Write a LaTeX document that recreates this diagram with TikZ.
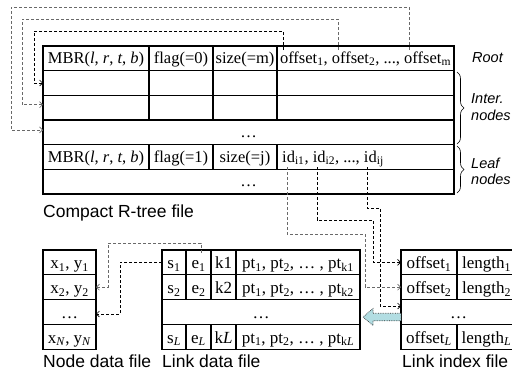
\documentclass[tikz,border=0pt]{standalone}
\usepackage{fontspec}
\setmainfont{Liberation Serif}
\newfontfamily\labfont{Liberation Sans}
\usetikzlibrary{arrows.meta,calc,decorations.pathreplacing}
\definecolor{blockfill}{RGB}{178,221,226}
\definecolor{lgray}{RGB}{105,105,105}
\newcommand\sbs[1]{\textsubscript{#1}}
\begin{document}
\begin{tikzpicture}[x=1pt,y=-1pt,
  tcell/.style={draw, line width=1.2pt, inner sep=0pt, outer sep=0pt, anchor=north west,
    minimum height=24.67pt, text height=12pt, text depth=2pt, font=\fontsize{16.5}{18}\selectfont},
  bcell/.style={draw, line width=1.2pt, inner sep=0pt, outer sep=0pt, anchor=north west,
    minimum height=24.8pt, text height=13pt, text depth=0pt, font=\fontsize{17}{19}\selectfont},
  conn/.style={dash pattern=on 3pt off 2pt, line width=0.65pt, -{Straight Barb[length=3pt,width=6pt]}},
  flabel/.style={anchor=west, inner sep=0pt, font=\labfont\fontsize{17.5}{19}\selectfont},
  slabel/.style={anchor=west, inner sep=0pt, font=\labfont\itshape\fontsize{14.5}{16}\selectfont},
  brc/.style={decorate, decoration={brace, amplitude=7pt}, line width=0.6pt}
]
\useasboundingbox (0,0) rectangle (512,376);

% ---------- Compact R-tree file ----------
\node[tcell, minimum width=106pt] (r1a) at (43,46) {MBR(\textit{l}, \textit{r}, \textit{t}, \textit{b})};
\node[tcell, minimum width=64pt]  (r1b) at (149,46) {flag(=0)};
\node[tcell, minimum width=64pt]  (r1c) at (213,46) {size(=m)};
\node[tcell, minimum width=177pt] (r1d) at (277,46) {offset\sbs{1}, offset\sbs{2}, ..., offset\sbs{m}};

\node[tcell, minimum width=106pt] (r2a) at (43,70.67) {};
\node[tcell, minimum width=64pt]  (r2b) at (149,70.67) {};
\node[tcell, minimum width=64pt]  (r2c) at (213,70.67) {};
\node[tcell, minimum width=177pt] (r2d) at (277,70.67) {};

\node[tcell, minimum width=106pt] (r3a) at (43,95.33) {};
\node[tcell, minimum width=64pt]  (r3b) at (149,95.33) {};
\node[tcell, minimum width=64pt]  (r3c) at (213,95.33) {};
\node[tcell, minimum width=177pt] (r3d) at (277,95.33) {};

\node[tcell, minimum width=411pt] (r4) at (43,120) {\ldots};

\node[tcell, minimum width=106pt] (r5a) at (43,144.67) {MBR(\textit{l}, \textit{r}, \textit{t}, \textit{b})};
\node[tcell, minimum width=64pt]  (r5b) at (149,144.67) {flag(=1)};
\node[tcell, minimum width=64pt]  (r5c) at (213,144.67) {size(=j)};
\node[tcell, minimum width=177pt] (r5d) at (277,144.67) {};
\node[anchor=base west, inner sep=0pt, font=\fontsize{16.5}{18}\selectfont] (ids) at (282,162) {id\sbs{i1}, id\sbs{i2}, ..., id\sbs{ij}};

\node[tcell, minimum width=411pt] (r6) at (43,169.33) {\ldots};

\node[flabel] (ctitle) at (43,213) {Compact R-tree file};

% right labels and braces
\node[slabel] (lroot) at (472,58) {Root};
\draw[brc] (457,72) -- (457,144);
\node[slabel] (linter) at (471,99) {Inter.};
\node[slabel] (lnodes1) at (471,115) {nodes};
\draw[brc] (457,146) -- (457,193);
\node[slabel] (lleaf) at (471,163) {Leaf};
\node[slabel] (lnodes2) at (471,179) {nodes};

% ---------- Node data file ----------
\node[bcell, minimum width=53pt] (nd1) at (43,250) {x\sbs{1}, y\sbs{1}};
\node[bcell, minimum width=53pt] (nd2) at (43,274.8) {x\sbs{2}, y\sbs{2}};
\node[bcell, minimum width=53pt] (nd3) at (43,299.6) {\ldots};
\node[bcell, minimum width=53pt] (nd4) at (43,324.4) {x\sbs{\textit{N}}, y\sbs{\textit{N}}};

% ---------- Link data file ----------
\node[bcell, minimum width=24pt]  (ld1s) at (162,250) {s\sbs{1}};
\node[bcell, minimum width=25pt]  (ld1e) at (186,250) {e\sbs{1}};
\node[bcell, minimum width=25pt]  (ld1k) at (211,250) {k1};
\node[bcell, minimum width=124pt] (ld1p) at (236,250) {pt\sbs{1}, pt\sbs{2}, \ldots\ , pt\sbs{k1}};

\node[bcell, minimum width=24pt]  (ld2s) at (162,274.8) {s\sbs{2}};
\node[bcell, minimum width=25pt]  (ld2e) at (186,274.8) {e\sbs{2}};
\node[bcell, minimum width=25pt]  (ld2k) at (211,274.8) {k2};
\node[bcell, minimum width=124pt] (ld2p) at (236,274.8) {pt\sbs{1}, pt\sbs{2}, \ldots\ , pt\sbs{k2}};

\node[bcell, minimum width=198pt] (ld3) at (162,299.6) {\ldots};

\node[bcell, minimum width=24pt]  (ld4s) at (162,324.4) {s\sbs{\textit{L}}};
\node[bcell, minimum width=25pt]  (ld4e) at (186,324.4) {e\sbs{\textit{L}}};
\node[bcell, minimum width=25pt]  (ld4k) at (211,324.4) {k\textit{L}};
\node[bcell, minimum width=124pt] (ld4p) at (236,324.4) {pt\sbs{1}, pt\sbs{2}, \ldots\ , pt\sbs{k\textit{L}}};

% ---------- Link index file ----------
\node[bcell, minimum width=56pt] (li1o) at (401,250) {offset\sbs{1}};
\node[bcell, minimum width=59pt] (li1l) at (457,250) {length\sbs{1}};
\node[bcell, minimum width=56pt] (li2o) at (401,274.8) {offset\sbs{2}};
\node[bcell, minimum width=59pt] (li2l) at (457,274.8) {length\sbs{2}};
\node[bcell, minimum width=115pt] (li3) at (401,299.6) {\ldots};
\node[bcell, minimum width=56pt] (li4o) at (401,324.4) {offset\sbs{\textit{L}}};
\node[bcell, minimum width=59pt] (li4l) at (457,324.4) {length\sbs{\textit{L}}};

\node[flabel] (ntitle) at (43,361) {Node data file};
\node[flabel] (ltitle) at (162,361) {Link data file};
\node[flabel] (ititle) at (402,361) {Link index file};

% ---------- connectors: root offsets to child nodes ----------
\draw[conn] ($(r1d.north west)+(6,4)$) |- (34,31) |- (r2a.west);
\draw[conn, lgray] ($(r1d.north west)+(61,4)$) |- (22,19) |- ($(r3a.west)+(0,-3)$);
\draw[conn, lgray] ($(r1d.north west)+(132,4)$) |- (11,7) |- ($(r4.west)+(0,-2.5)$);

% ---------- leaf ids to link index ----------
\draw[conn, lgray] ($(r5d.south west)+(10,-2)$) |- (365,234) |- (li2o.west);
\draw[conn] ($(r5d.south west)+(40,-2)$) |- (373,220) |- (li1o.west);
\draw[conn] ($(r5d.south west)+(90,-2)$) |- (380,208) |- ($(li3.west)+(0,-6)$);

% ---------- link data to node data ----------
\draw[conn, lgray] ($(ld1e.north)+(2.5,3)$) |- (108,243) |- (nd2.east);
\draw[conn] (ld1s.west) -| ($(nd3.east)+(24,2)$) -- ($(nd3.east)+(0,2)$);

% ---------- block arrow: link index -> link data ----------
\coordinate (ba) at ($(li3.west)+(0,5)$);
\filldraw[fill=blockfill, draw=black!80, densely dotted, line width=0.7pt]
  ($(ba)+(0,-3.75)$) -- ++(-28,0) -- ++(0,-4.75) -- ++(-10,8.5) -- ++(10,8.5)
  -- ++(0,-4.75) -- ++(28,0) -- cycle;

\end{tikzpicture}
\end{document}
